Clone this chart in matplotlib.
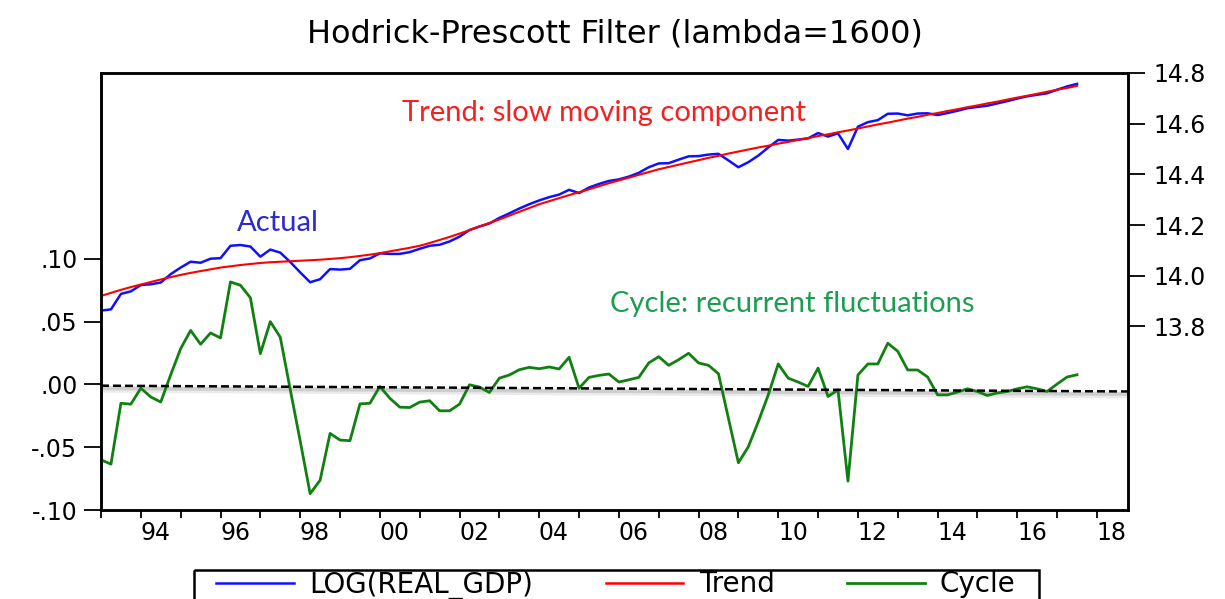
import matplotlib
matplotlib.use('Agg')
import matplotlib.pyplot as plt
from matplotlib.patches import Rectangle
from matplotlib.lines import Line2D
import numpy as np

# quarterly data, 1993Q1 - 2017Q3
start_year = 1993

log_gdp = [13.862, 13.867, 13.928, 13.938, 13.963, 13.966, 13.973, 14.006, 14.032, 14.055,
           14.051, 14.067, 14.069, 14.118, 14.121, 14.115, 14.075, 14.103, 14.091, 14.054,
           14.013, 13.974, 13.986, 14.026, 14.024, 14.027, 14.061, 14.068, 14.088, 14.086,
           14.086, 14.093, 14.106, 14.118, 14.122, 14.135, 14.154, 14.180, 14.194, 14.206,
           14.228, 14.246, 14.265, 14.282, 14.297, 14.310, 14.320, 14.339, 14.326, 14.348,
           14.362, 14.374, 14.380, 14.391, 14.406, 14.428, 14.443, 14.444, 14.458, 14.471,
           14.472, 14.478, 14.481, 14.455, 14.428, 14.448, 14.474, 14.506, 14.536, 14.533,
           14.537, 14.542, 14.563, 14.549, 14.562, 14.500, 14.588, 14.606, 14.614, 14.639,
           14.640, 14.633, 14.640, 14.641, 14.634, 14.642, 14.651, 14.661, 14.666, 14.671,
           14.680, 14.689, 14.699, 14.708, 14.714, 14.720, 14.734, 14.747, 14.757]

trend = [13.920, 13.932, 13.944, 13.955, 13.965, 13.975, 13.985, 13.994, 14.003, 14.011,
         14.018, 14.025, 14.032, 14.037, 14.042, 14.046, 14.050, 14.053, 14.055, 14.057,
         14.059, 14.061, 14.063, 14.066, 14.069, 14.073, 14.078, 14.083, 14.089, 14.096,
         14.103, 14.110, 14.118, 14.129, 14.141, 14.153, 14.166, 14.180, 14.194, 14.208,
         14.222, 14.237, 14.252, 14.267, 14.282, 14.294, 14.306, 14.318, 14.329, 14.341,
         14.353, 14.365, 14.376, 14.387, 14.398, 14.409, 14.420, 14.429, 14.438, 14.447,
         14.456, 14.465, 14.473, 14.482, 14.490, 14.498, 14.506, 14.513, 14.521, 14.528,
         14.536, 14.543, 14.551, 14.558, 14.566, 14.573, 14.581, 14.589, 14.597, 14.604,
         14.612, 14.620, 14.627, 14.635, 14.642, 14.650, 14.657, 14.665, 14.672, 14.680,
         14.687, 14.695, 14.703, 14.710, 14.718, 14.726, 14.734, 14.741, 14.749]

cycle = [-0.060, -0.0635, -0.015, -0.0157, -0.003, -0.010, -0.014, 0.0077, 0.0285, 0.043,
         0.032, 0.041, 0.037, 0.0816, 0.079, 0.069, 0.0245, 0.050, 0.0376, -0.004,
         -0.045, -0.087, -0.0763, -0.039, -0.0443, -0.0448, -0.0155, -0.015, -0.0016, -0.011,
         -0.0181, -0.0184, -0.0141, -0.013, -0.021, -0.021, -0.0157, -0.0003, -0.0021, -0.0064,
         0.005, 0.0075, 0.0117, 0.0136, 0.0125, 0.0139, 0.0123, 0.0216, -0.003, 0.0056,
         0.0072, 0.0083, 0.0019, 0.0037, 0.0056, 0.0171, 0.0221, 0.0152, 0.0197, 0.0248,
         0.0171, 0.0152, 0.0085, -0.027, -0.0624, -0.0496, -0.0296, -0.0083, 0.0163, 0.005,
         0.0019, -0.0016, 0.013, -0.0096, -0.0043, -0.077, 0.0075, 0.0163, 0.0163, 0.0328,
         0.0264, 0.0115, 0.0115, 0.0059, -0.0083, -0.0083, -0.0061, -0.0035, -0.0056, -0.0088,
         -0.0067, -0.0056, -0.0035, -0.0019, -0.0035, -0.0056, 0.0003, 0.0059, 0.0077]

# hand drawn reference line near zero
zero_x = [1993.0, 2018.78]
zero_y = [-0.0010, -0.0056]

left_ticks = [-0.10, -0.05, 0.00, 0.05, 0.10]
left_labels = ['-.10', '-.05', '.00', '.05', '.10']
right_ticks = [13.8, 14.0, 14.2, 14.4, 14.6, 14.8]
right_labels = ['13.8', '14.0', '14.2', '14.4', '14.6', '14.8']
year_labels = ['94', '96', '98', '00', '02', '04', '06', '08', '10', '12', '14', '16', '18']

x = start_year + np.arange(len(cycle)) / 4.0

W, H = 1225, 599
fig = plt.figure(figsize=(W / 100, H / 100), dpi=100)
ax = fig.add_axes([101 / W, 1 - 510 / H, 1027 / W, 437 / H])
ax2 = ax.twinx()

# cycle + dashed zero line with soft shadow
ax.plot(x, cycle, color='#118011', lw=2.0, zorder=3)
ax.plot(zero_x, np.array(zero_y) - 0.0028, color='#000000', lw=5, alpha=0.08, solid_capstyle='butt', zorder=2)
ax.plot(zero_x, np.array(zero_y) - 0.0022, color='#000000', lw=2.5, alpha=0.12, solid_capstyle='butt', zorder=2)
ax.plot(zero_x, zero_y, color='black', lw=1.8, ls=(0, (3.2, 1.6)), zorder=4)

ax2.plot(x, log_gdp, color='#1010ff', lw=1.8)
ax2.plot(x, trend, color='#ff0000', lw=1.5)

ax.set_xlim(1993.0, 2018.78)
ax.set_ylim(-0.10, 0.248)
ax2.set_ylim(13.075, 14.80)

ax.set_yticks(left_ticks)
ax.set_yticklabels(left_labels)
ax2.set_yticks(right_ticks)
ax2.set_yticklabels(right_labels)

ax.set_xticks(np.arange(1993, 2019))
ax.set_xticklabels([])
ax.set_xticks(np.arange(1994, 2019, 2) + 0.37, minor=True)
ax.set_xticklabels(year_labels, minor=True)

ax.tick_params(axis='y', direction='out', length=12, width=1.3, pad=5, labelsize=17)
ax2.tick_params(axis='y', direction='out', length=12, width=1.3, pad=6, labelsize=17)
ax.tick_params(axis='x', which='major', direction='out', length=6, width=1.3)
ax.tick_params(axis='x', which='minor', length=0, pad=8, labelsize=17)

for a in (ax, ax2):
    for s in a.spines.values():
        s.set_linewidth(1.8)

ax.set_title('Hodrick-Prescott Filter (lambda=1600)', fontsize=23, pad=22)

# annotations
ax.text(0.293, 0.890, 'Trend: slow moving component', transform=ax.transAxes,
        family='Lato', fontsize=21, color='#f52020', va='baseline')
ax.text(0.132, 0.639, 'Actual', transform=ax.transAxes,
        family='Lato', fontsize=21, color='#2a2ad0', va='baseline')
ax.text(0.496, 0.454, 'Cycle: recurrent fluctuations', transform=ax.transAxes,
        family='Lato', fontsize=21, color='#1c9e50', va='baseline')

# legend, box cut by the bottom edge like the original
fig.patches.append(Rectangle((194 / W, 1 - 570 / H), (1039 - 194) / W, -0.1,
                             transform=fig.transFigure, fill=False, ec='black', lw=1.8))
handles = [Line2D([], [], color='#1010ff', lw=1.8),
           Line2D([], [], color='#ff0000', lw=1.8),
           Line2D([], [], color='#118011', lw=2.0)]
fig.legend(handles, ['LOG(REAL_GDP)', 'Trend', 'Cycle'], loc='center',
           bbox_to_anchor=(616 / W, 1 - 585 / H), ncol=3, frameon=False,
           fontsize=20, handlelength=2.8, handletextpad=0.55, columnspacing=2.6,
           borderpad=0.0)

fig.savefig('out.png', dpi=100)
